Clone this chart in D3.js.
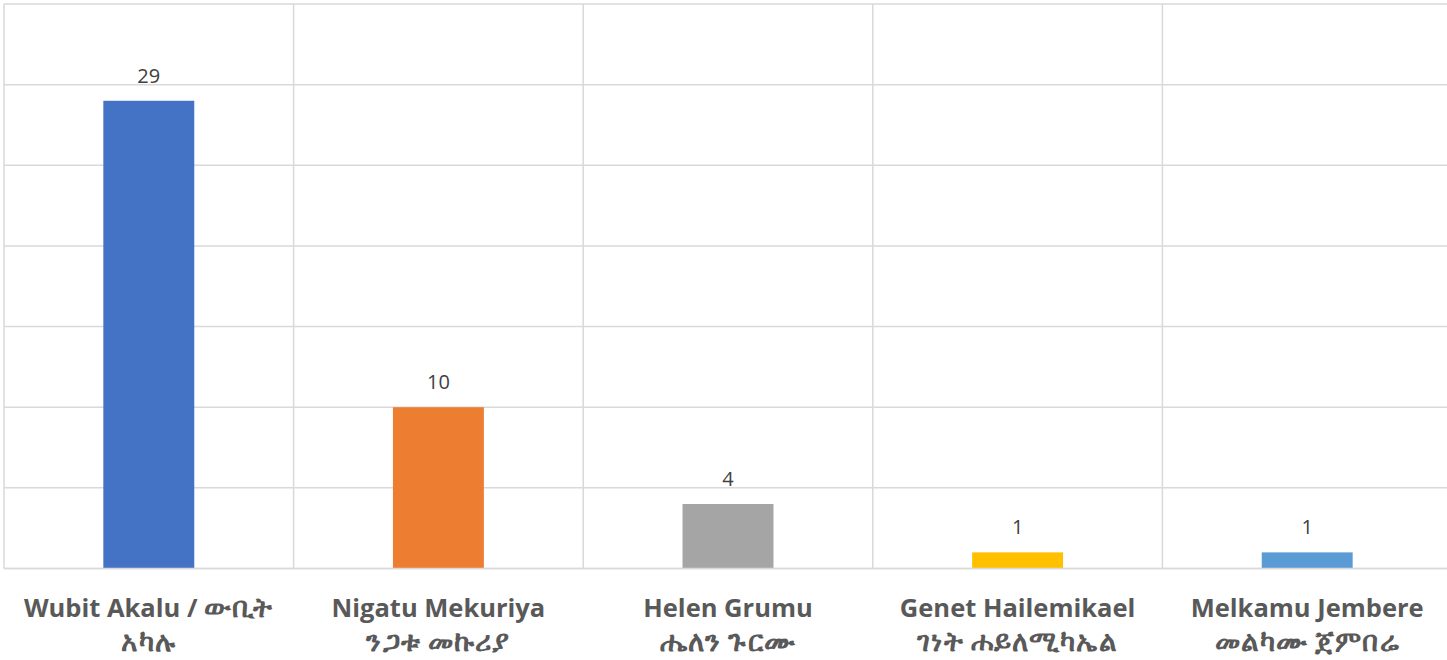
<!DOCTYPE html>
<html><head><meta charset="utf-8">
<script src="https://cdn.jsdelivr.net/npm/d3@7"></script>
<style>body{margin:0;background:#fff;}svg{display:block;}</style>
</head><body>
<svg id="chart" width="1447" height="660"></svg>
<script>
const namesLatin = ["Wubit Akalu / ውቢት", "Nigatu Mekuriya", "Helen Grumu", "Genet Hailemikael", "Melkamu Jembere"];
const namesEthiopic = ["አካሉ", "ንጋቱ መኩሪያ", "ሔለን ጉርሙ", "ገነት ሐይለሚካኤል", "መልካሙ ጀምበሬ"];
const values = [29, 10, 4, 1, 1];
const colors = ["#4472c4", "#ed7d31", "#a5a5a5", "#ffc000", "#5b9bd5"];
const yTicks = [0, 5, 10, 15, 20, 25, 30, 35];

const svg = d3.select("#chart");
const x = d3.scaleBand().domain(d3.range(values.length)).range([4, 1452]).paddingInner(0).paddingOuter(0);
const y = d3.scaleLinear().domain([0, 35]).range([568.5, 4]);
const barW = x.bandwidth() * 0.314;

// horizontal gridlines
svg.append("g").selectAll("line").data(yTicks).join("line")
  .attr("x1", 4).attr("x2", 1447)
  .attr("y1", d => y(d)).attr("y2", d => y(d))
  .attr("stroke", "#d9d9d9").attr("stroke-width", 1.5);
// vertical gridlines
const edges = d3.range(values.length + 1).map(i => i < values.length ? x(i) : x(values.length - 1) + x.bandwidth());
svg.append("g").selectAll("line").data(edges).join("line")
  .attr("x1", d => d).attr("x2", d => d)
  .attr("y1", y(35)).attr("y2", y(0))
  .attr("stroke", "#d9d9d9").attr("stroke-width", 1.5);

// bars
svg.append("g").selectAll("rect").data(values).join("rect")
  .attr("x", (d, i) => x(i) + x.bandwidth() / 2 - barW / 2)
  .attr("width", barW)
  .attr("y", d => y(d))
  .attr("height", d => y(0) - y(d))
  .attr("fill", (d, i) => colors[i]);

// redraw baseline over bars
svg.append("line").attr("x1", 4).attr("x2", 1447).attr("y1", y(0)).attr("y2", y(0))
  .attr("stroke", "#d9d9d9").attr("stroke-width", 1.5);

// value labels
svg.append("g").selectAll("text").data(values).join("text")
  .attr("x", (d, i) => x(i) + x.bandwidth() / 2)
  .attr("y", d => y(d) - 18)
  .attr("text-anchor", "middle")
  .attr("font-family", "'Open Sans', 'Liberation Sans', sans-serif")
  .attr("font-size", 20)
  .attr("fill", "#404040")
  .text(d => d);

// split a string into runs of Ethiopic / non-Ethiopic characters
function runs(s) {
  const out = [];
  const re = /([\u1200-\u139F]+)|([^\u1200-\u139F]+)/g;
  let m;
  while ((m = re.exec(s)) !== null) out.push({ t: m[0], eth: !!m[1] });
  return out;
}
const LAT_SIZE = 25.5, ETH_SIZE = 28, ETH_SPACING = 1.2;

// category labels: one text element per line
values.forEach((v, i) => {
  const cx = x(i) + x.bandwidth() / 2;
  [[namesLatin[i], 617], [namesEthiopic[i], 651]].forEach(([str, yy]) => {
    const t = svg.append("text")
      .attr("x", cx).attr("y", yy)
      .attr("text-anchor", "middle")
      .attr("font-family", "'Open Sans', Lato, sans-serif")
      .attr("font-weight", "bold")
      .attr("font-size", LAT_SIZE)
      .attr("fill", "#595959");
    runs(str).forEach(r => {
      const ts = t.append("tspan").text(r.t);
      if (r.eth) ts.attr("font-size", ETH_SIZE).attr("letter-spacing", ETH_SPACING);
    });
  });
});
</script>
</body></html>
